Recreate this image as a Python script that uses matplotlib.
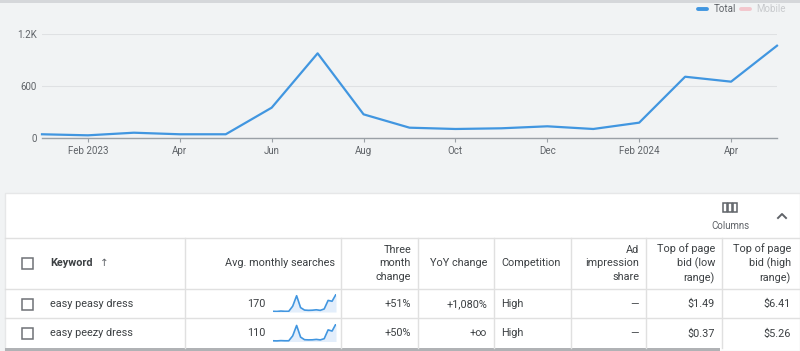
#------------------------------------------------------------------------------
# IMPORTS
#------------------------------------------------------------------------------
import matplotlib
matplotlib.use("Agg")
from matplotlib import pyplot as plt
from matplotlib.patches import Rectangle

plt.rcParams['font.family'] = ['Roboto', 'DejaVu Sans']

#------------------------------------------------------------------------------
# DATA
#------------------------------------------------------------------------------
months = ['Jan 2023', 'Feb 2023', 'Mar 2023', 'Apr 2023', 'May 2023',
          'Jun 2023', 'Jul 2023', 'Aug 2023', 'Sep 2023', 'Oct 2023',
          'Nov 2023', 'Dec 2023', 'Jan 2024', 'Feb 2024', 'Mar 2024',
          'Apr 2024', 'May 2024']
total = [43, 31, 61, 43, 43, 350, 977, 273, 119, 104, 112, 135, 104, 177,
         707, 650, 1065]

tick_months = ['Feb 2023', 'Apr 2023', 'Jun 2023', 'Aug 2023', 'Oct 2023',
               'Dec 2023', 'Feb 2024', 'Apr 2024']
tick_labels = ['Feb 2023', 'Apr', 'Jun', 'Aug', 'Oct', 'Dec', 'Feb 2024', 'Apr']

y_ticks = [0, 600, 1200]
y_labels = ['0', '600', '1.2K']

# sparkline trends per keyword
spark_peasy = [25, 20, 35, 25, 25, 210, 590, 160, 70, 60, 65, 80, 60, 110,
               420, 390, 640]
spark_peezy = [18, 15, 22, 18, 18, 140, 400, 110, 45, 40, 42, 52, 40, 70,
               290, 260, 440]

headers = ['Keyword', 'Avg. monthly searches', 'Three\nmonth\nchange',
           'YoY change', 'Competition', 'Ad\nimpression\nshare',
           'Top of page\nbid (low\nrange)', 'Top of page\nbid (high\nrange)']

keywords = ['easy peasy dress', 'easy peezy dress']
avg_searches = ['170', '110']
three_month = ['+51%', '+50%']
yoy_change = ['+1,080%', '+\u221e']
competition = ['High', 'High']
impression_share = ['\u2014', '\u2014']
bid_low = ['$1.49', '$0.37']
bid_high = ['$6.41', '$5.26']

#------------------------------------------------------------------------------
# STYLE
#------------------------------------------------------------------------------
W, H = 800, 351
BLUE = '#4196e0'
TEXT = '#3c4043'
GREY = '#5f6368'
LINE = '#e0e0e0'
BG = '#f1f3f4'


def ax_rect(x0, y0, x1, y1):
    """ Pixel box (top-left origin) to figure fraction. """
    return [x0 / W, 1 - y1 / H, (x1 - x0) / W, (y1 - y0) / H]


def checkbox(ax, x, y):
    ax.add_patch(Rectangle((x - 5.5, y - 5.5), 11, 11, fill=False,
                           edgecolor='#6f7276', lw=1.1))


#------------------------------------------------------------------------------
# MAIN
#------------------------------------------------------------------------------
def main():

    fig = plt.figure(figsize=(W / 100, H / 100), dpi=100, facecolor=BG)

    # background canvas in pixel coordinates
    bg = fig.add_axes([0, 0, 1, 1])
    bg.set_xlim(0, W)
    bg.set_ylim(H, 0)
    bg.axis('off')

    # top shadow line
    bg.add_patch(Rectangle((0, 0), W, 2.5, color='#d5d7da', lw=0))

    # table card
    bg.add_patch(Rectangle((5, 193), W - 5, H - 193, facecolor='white',
                           edgecolor='#e6e7e8', lw=1))
    # scrollbar
    bg.add_patch(Rectangle((5, 347.5), 715, 3.5, color='#b0b2b5', lw=0))

    # legend
    bg.plot([698, 707], [9, 9], color=BLUE, lw=2.8, solid_capstyle='round')
    bg.text(714, 9, 'Total', color=GREY, fontsize=7, va='center')
    bg.plot([741, 750], [9, 9], color='#f3c6cc', lw=2.8,
            solid_capstyle='round')
    bg.text(756, 9, 'Mobile', color='#c8cacd', fontsize=7, va='center')

    # columns button and caret
    for dx in (-5, 0, 5):
        bg.add_patch(Rectangle((730 + dx - 2.2, 203), 4.4, 9, fill=False,
                               edgecolor='#5f6368', lw=1.1))
    bg.text(730, 226, 'Columns', color=GREY, fontsize=7, ha='center',
            va='center')
    bg.plot([778, 782, 786], [218, 214, 218], color=GREY, lw=1.4)

    # table grid
    col_x = [185, 341, 418, 494, 571, 646, 722]
    row_y = [238, 289, 318, 348]
    for y in row_y[:-1]:
        bg.plot([5, W], [y, y], color=LINE, lw=1)
    for x in col_x:
        bg.plot([x, x], [238, 348], color=LINE, lw=1)

    # header
    head_y = 263.5
    checkbox(bg, 27.5, head_y)
    bg.text(50, head_y, headers[0], color=TEXT, fontsize=7.8,
            fontweight='bold', va='center')
    bg.text(100, head_y, '\u2191', color=GREY, fontsize=7.5, va='center',
            family=['DejaVu Sans'])
    right_x = [None, 335, 411, 487, None, 639, 715, 791]
    for i, label in enumerate(headers[1:], start=1):
        if i == 4:
            bg.text(501, head_y, label, color=TEXT, fontsize=7.8,
                    va='center', ha='left')
        else:
            bg.text(right_x[i], head_y, label, color=TEXT, fontsize=7.8,
                    va='center', ha='right', linespacing=1.38)

    # rows
    sparks = [spark_peasy, spark_peezy]
    for r in range(len(keywords)):
        y = (row_y[r + 1] + row_y[r + 2]) / 2 + 0.5
        checkbox(bg, 27.5, y)
        bg.text(50, y, keywords[r], color=TEXT, fontsize=7.8, va='center')
        bg.text(265, y, avg_searches[r], color=TEXT, fontsize=7.8,
                va='center', ha='right')
        bg.text(411, y, three_month[r], color=TEXT, fontsize=7.8,
                va='center', ha='right')
        bg.text(487, y, yoy_change[r], color=TEXT, fontsize=7.8,
                va='center', ha='right')
        bg.text(501, y, competition[r], color=TEXT, fontsize=7.8,
                va='center', ha='left')
        bg.text(639, y, impression_share[r], color=TEXT, fontsize=7.8,
                va='center', ha='right')
        bg.text(715, y, bid_low[r], color=TEXT, fontsize=7.8,
                va='center', ha='right')
        bg.text(791, y, bid_high[r], color=TEXT, fontsize=7.8,
                va='center', ha='right')

        # sparkline
        sp = fig.add_axes(ax_rect(273, y - 10, 336, y + 8))
        xs = range(len(sparks[r]))
        sp.fill_between(xs, sparks[r], color='#e3eefb', lw=0)
        sp.plot(xs, sparks[r], color=BLUE, lw=1.2)
        sp.set_xlim(0, len(sparks[r]) - 1)
        sp.set_ylim(0, max(sparks[r]) * 1.02)
        sp.axis('off')

    # main chart
    ax = fig.add_axes(ax_rect(42, 34, 777, 138))
    ax.set_facecolor('none')
    xs = list(range(len(months)))
    ax.plot(xs, total, color=BLUE, lw=1.6, clip_on=False)
    ax.set_xlim(0, len(months) - 1)
    ax.set_ylim(0, 1200)

    ax.set_yticks(y_ticks)
    ax.set_yticklabels(y_labels)
    ax.set_xticks([months.index(m) for m in tick_months])
    ax.set_xticklabels(tick_labels)
    ax.tick_params(axis='y', length=0, pad=4, labelsize=7, labelcolor=GREY)
    ax.tick_params(axis='x', length=3, width=0.8, color='#9aa0a6', pad=3,
                   labelsize=7, labelcolor=GREY)
    ax.grid(axis='y', color='#dfe1e3', lw=0.8)
    for side in ('top', 'right', 'left'):
        ax.spines[side].set_visible(False)
    ax.spines['bottom'].set_color('#9aa0a6')
    ax.spines['bottom'].set_linewidth(1)
    ax.set_axisbelow(True)

    fig.savefig('out.png', dpi=100, facecolor=BG)


#------------------------------------------------------------------------------
if __name__ == '__main__':
    main()
